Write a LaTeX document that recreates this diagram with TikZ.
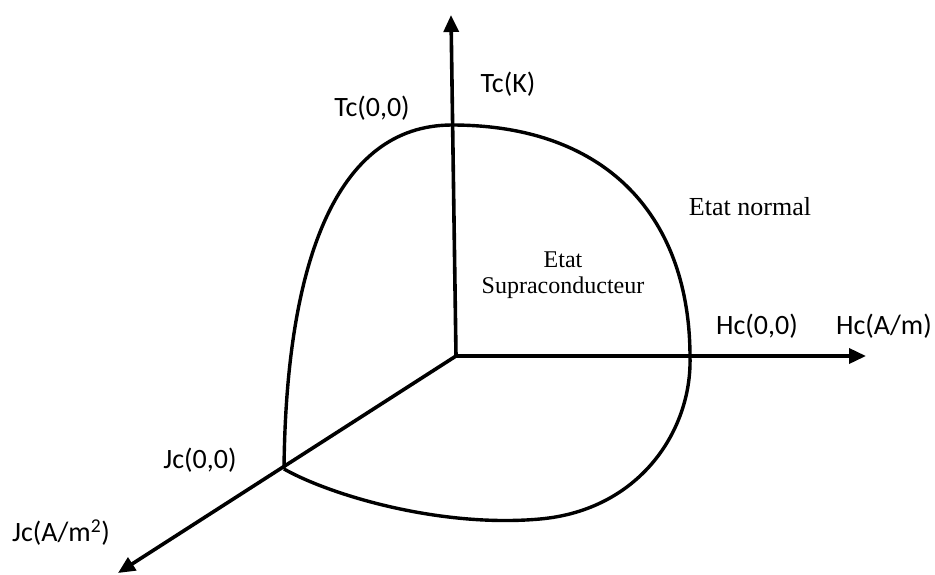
\documentclass[tikz,border=0pt]{standalone}
\usepackage{fontspec}
\usepackage{tikz}
\usetikzlibrary{arrows.meta,positioning}
\newfontfamily\calib{Carlito}
\newfontfamily\tnrfont{Liberation Serif}
\tikzset{
  axis/.style={line width=3.6pt, -{Triangle[length=17pt,width=15pt]}},
  border/.style={line width=3.4pt, line join=round},
  clbl/.style={font=\calib\fontsize{28}{32}\selectfont, inner sep=0pt},
  etat/.style={font=\tnrfont\fontsize{24}{26}\selectfont, inner sep=0pt, align=center},
}
\begin{document}
\begin{tikzpicture}[x=1pt,y=-1pt,line cap=butt]
  \useasboundingbox (0,0) rectangle (935,574);
  % ====== axes ======
  \coordinate (O) at (456,356);
  \coordinate (Ttip) at (451,15);
  \coordinate (Htip) at (866,356);
  \coordinate (Jtip) at (118,573);
  \draw[axis] (O) -- (Ttip);
  \draw[axis] (O) -- (Htip);
  \draw[axis] (O) -- (Jtip);
  % ====== surface critique ======
  \coordinate (Tc0) at (452,125);
  \coordinate (Hc0) at (690,357);
  \coordinate (Jc0) at (284,469);
  \coordinate (bas) at (540,519);
  \draw[border] (Jc0) .. controls (286,265) and (335,125) .. (Tc0)
    .. controls (610,125) and (690,220) .. (Hc0)
    .. controls (692,430) and (640,510) .. (bas)
    .. controls (440,528) and (330,495) .. (Jc0);
  % ====== labels ======
  \node[clbl] (tk) at (508,84) {Tc(K)};
  \node[clbl] (t00) at (372,108) {Tc(0,0)};
  \node[clbl] (h00) at (757,326) {Hc(0,0)};
  \node[clbl] (ham) at (884,326) {Hc(A/m)};
  \node[clbl] (j00) at (200,460) {Jc(0,0)};
  \node[clbl] (jam) at (61,533) {Jc(A/m\textsuperscript{2})};
  \node[etat, font=\tnrfont\fontsize{26}{28}\selectfont] (norm) at (750,207) {Etat normal};
  \node[etat] (supra) at (563,275) {Etat\\Supraconducteur};
\end{tikzpicture}
\end{document}
